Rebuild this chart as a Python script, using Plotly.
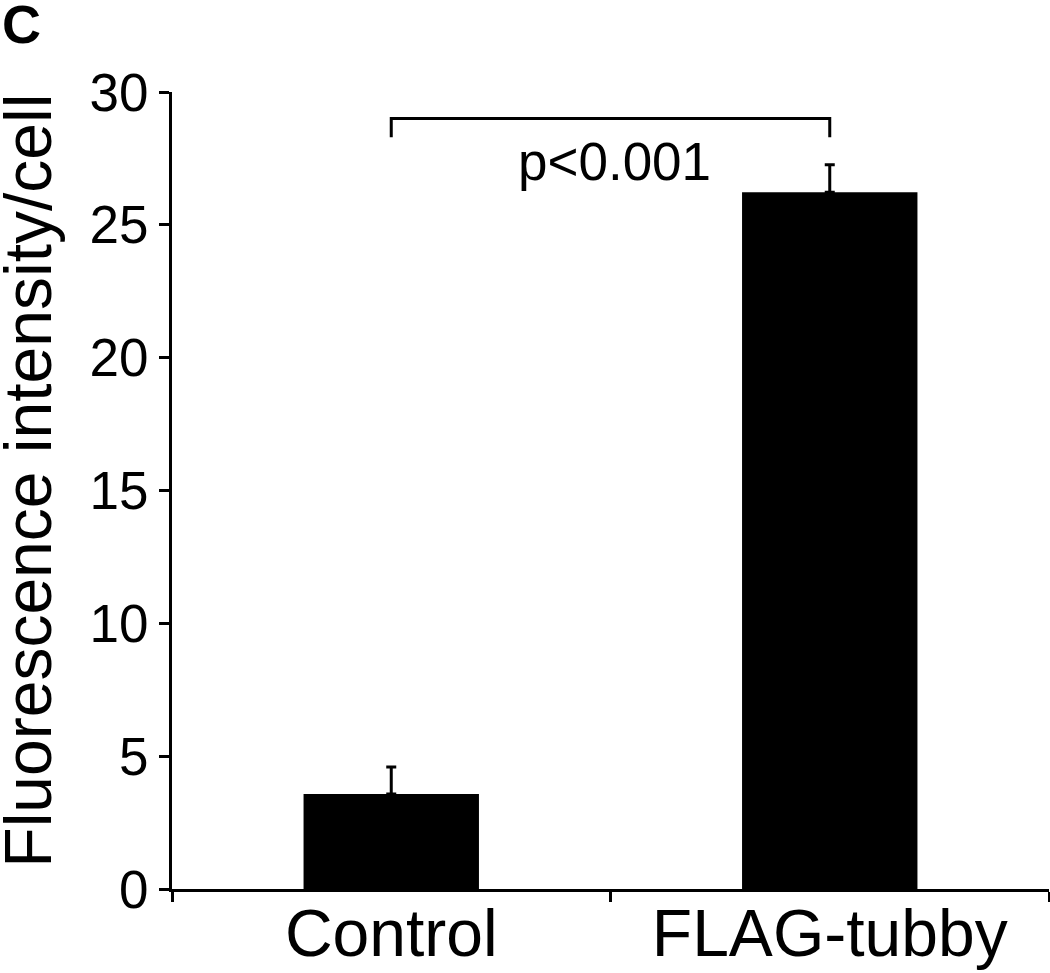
import plotly.graph_objects as go

categories = ["Control", "FLAG-tubby"]
values = [3.58, 26.23]
errors_up = [1.01, 1.03]
y_ticks = [0, 5, 10, 15, 20, 25, 30]
y_title = "Fluorescence intensity/cell"
p_text = "p<0.001"
panel_label = "C"
bracket_y = 29.0
bracket_drop = 28.3

FONT = "Liberation Sans, Arial, sans-serif"

fig = go.Figure()
fig.add_trace(go.Bar(
    x=categories, y=values, width=0.4,
    marker=dict(color="black", line=dict(width=0)),
    error_y=dict(type="data", symmetric=False, array=errors_up,
                 arrayminus=[0, 0], color="black", thickness=3, width=5),
    showlegend=False,
))

# significance bracket
fig.add_trace(go.Scatter(
    x=[categories[0], categories[0], categories[1], categories[1]],
    y=[bracket_drop, bracket_y, bracket_y, bracket_drop],
    mode="lines", line=dict(color="black", width=3),
    showlegend=False, hoverinfo="skip", cliponaxis=False,
))

fig.update_layout(
    width=1050, height=973,
    margin=dict(l=172, r=1, t=92, b=84, autoexpand=False),
    plot_bgcolor="white", paper_bgcolor="white",
    font=dict(family=FONT, color="black"),
    bargap=0.6,
    xaxis=dict(
        type="category", range=[-0.5, 1.5], tickson="boundaries",
        ticks="outside", ticklen=10, tickwidth=3, tickcolor="black",
        showline=True, linecolor="black", linewidth=3,
        showgrid=False, zeroline=False, automargin=False,
        tickfont=dict(size=66, family=FONT, color="black"),
        ticklabelstandoff=-15,
    ),
    yaxis=dict(
        range=[0, 30], tickvals=y_ticks,
        ticks="outside", ticklen=10, tickwidth=3, tickcolor="black",
        showline=True, linecolor="black", linewidth=3,
        showgrid=False, zeroline=False, automargin=False,
        tickfont=dict(size=53, family=FONT, color="black"),
        ticklabelstandoff=0,
    ),
    annotations=[
        dict(text=y_title, textangle=-90, x=-0.1645, y=0.512,
             xref="paper", yref="paper", xanchor="center", yanchor="middle",
             showarrow=False, font=dict(size=66, family=FONT, color="black")),
        dict(text=p_text, x=0.51, y=27.4, xref="x", yref="y",
             xanchor="center", yanchor="middle", showarrow=False,
             font=dict(size=53, family=FONT, color="black")),
        dict(text="<b>" + panel_label + "</b>", x=-0.196, y=1.126,
             xref="paper", yref="paper", xanchor="left", yanchor="top",
             showarrow=False, font=dict(size=54, family=FONT, color="black")),
    ],
)

fig.write_html("out.html", config={"displayModeBar": False},
               post_script="document.body.style.margin='0px';")
